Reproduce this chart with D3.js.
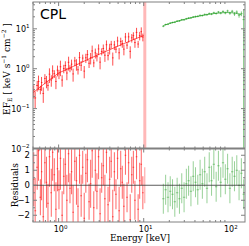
<!DOCTYPE html>
<html>
<head>
<meta charset="utf-8">
<script src="https://cdn.jsdelivr.net/npm/d3@7"></script>
<style>
  body { margin: 0; background: #fff; }
  svg { display: block; }
</style>
</head>
<body>
<div id="chart"></div>
<script>
// ---- data ----
const redEnergy = [0.51, 0.53, 0.56, 0.58, 0.61, 0.63, 0.66, 0.69, 0.72, 0.75, 0.78, 0.82, 0.85, 0.89, 0.93, 0.97,
  1.01, 1.05, 1.10, 1.15, 1.20, 1.25, 1.31, 1.36, 1.42, 1.48, 1.55, 1.62, 1.69, 1.76, 1.84, 1.92, 2.00, 2.09,
  2.18, 2.28, 2.38, 2.48, 2.59, 2.70, 2.82, 2.95, 3.07, 3.21, 3.35, 3.50, 3.65, 3.81, 3.98, 4.15, 4.33, 4.52,
  4.72, 4.93, 5.14, 5.37, 5.60, 5.85, 6.10, 6.37, 6.65, 6.94, 7.24, 7.56, 7.89, 8.24, 8.60, 8.97, 9.36, 9.77];
const redFlux = [0.28, 0.185, 0.38, 0.48, 0.30, 0.45, 0.24, 0.57, 0.49, 0.38, 0.73, 0.52, 0.88, 0.75, 0.48, 0.92,
  0.74, 1.12, 0.52, 1.01, 1.20, 0.78, 1.45, 1.02, 1.30, 0.74, 1.57, 1.31, 0.94, 1.90, 1.22, 1.85, 0.87, 1.88,
  2.26, 1.37, 1.88, 2.79, 1.40, 2.50, 2.00, 3.13, 1.46, 2.70, 3.21, 2.18, 3.99, 2.13, 3.24, 4.09, 1.87, 3.96,
  3.08, 4.96, 2.51, 4.83, 4.28, 3.09, 6.24, 3.90, 6.28, 2.72, 5.95, 6.73, 4.52, 8.13, 4.16, 6.75, 8.49, 6.22];
const redResid = [0.4, -1.7, 1.2, 2.3, -0.8, 0.9, -2.1, 1.5, 0.2, -1.2, 1.9, -0.5, 2.2, 0.7, -1.6, 1.1,
  -0.3, 1.8, -2.0, 0.6, 1.4, -1.0, 2.1, -0.2, 0.9, -1.8, 1.6, 0.3, -1.4, 2.0, -0.7, 1.2, -2.2, 0.8,
  1.7, -1.1, 0.1, 2.3, -1.5, 1.0, -0.4, 1.9, -1.9, 0.5, 1.3, -0.9, 2.2, -1.3, 0.4, 1.6, -2.1, 0.9,
  -0.6, 1.8, -1.7, 1.1, 0.2, -1.4, 2.0, -0.8, 1.5, -2.3, 0.7, 1.2, -1.0, 1.9, -1.6, 0.3, 1.4, -0.5];
const redResidHalf = [1.8, 2.2, 1.5, 2.0, 1.2, 1.9, 2.1, 1.4, 1.7, 1.3, 2.0, 1.6, 1.9, 1.1, 1.8, 1.5,
  1.3, 2.1, 1.6, 1.2, 1.4, 1.7, 1.9, 1.0, 1.5, 1.8, 1.3, 1.6, 1.2, 1.9, 1.4, 1.1, 1.7, 1.3,
  1.5, 1.2, 1.6, 1.8, 1.1, 1.4, 1.2, 1.5, 1.7, 1.0, 1.3, 1.6, 1.4, 1.2, 1.5, 1.1, 1.8, 1.3,
  1.0, 1.4, 1.6, 1.2, 1.1, 1.5, 1.3, 1.0, 1.4, 1.7, 1.2, 1.1, 1.3, 1.5, 1.0, 1.2, 1.4, 1.1];
// the ~10 keV bin with an unconstrained error bar
const redEdge = { e: 10.3, lo: 0.001, hi: 1000, resid: 0.0 };

const greenEnergy = [17.0, 18.1, 19.3, 20.5, 21.8, 23.2, 24.7, 26.3, 28.0, 29.8, 31.7, 33.7, 35.9, 38.2, 40.6, 43.2,
  46.0, 48.9, 52.1, 55.4, 58.9, 62.7, 66.7, 71.0, 75.5, 80.4, 85.5, 91.0, 96.8, 103.0, 109.6, 116.6, 124.1,
  132.0, 140.5, 149.5];
const greenFlux = [11.6, 12.8, 13.0, 13.9, 14.4, 14.6, 15.6, 15.8, 16.9, 16.8, 17.9, 18.6, 18.9, 19.9, 20.3, 20.6,
  21.7, 21.5, 22.9, 22.6, 24.2, 23.4, 25.3, 24.2, 26.4, 24.8, 27.2, 25.0, 28.0, 24.6, 27.5, 23.6, 26.2,
  21.9, 24.0, 17.0];
const greenLo = [0.6, 0.6, 0.6, 0.7, 0.7, 0.7, 0.8, 0.8, 0.8, 0.9, 0.9, 1.0, 1.0, 1.0, 1.1, 1.1,
  1.2, 1.2, 1.3, 1.3, 1.4, 1.4, 1.5, 1.5, 1.6, 1.7, 1.8, 1.9, 2.0, 2.1, 2.3, 2.5, 2.7, 2.9, 3.3, 16.99];
const greenHi = [0.6, 0.6, 0.6, 0.7, 0.7, 0.7, 0.8, 0.8, 0.8, 0.9, 0.9, 1.0, 1.0, 1.0, 1.1, 1.1,
  1.2, 1.2, 1.3, 1.3, 1.4, 1.4, 1.5, 1.5, 1.6, 1.7, 1.8, 1.9, 2.0, 2.1, 2.3, 2.5, 2.7, 2.9, 3.3, 14.0];
const greenResid = [-0.9, -0.3, -0.8, -0.4, -0.6, -1.1, -0.5, -0.9, -0.2, -0.8, 0.1, 0.3, -0.4, 0.6, 0.2, -0.3,
  0.7, 0.1, 0.9, -0.2, 1.2, 0.3, 1.4, -0.1, 1.3, 0.2, 1.5, 0.4, 1.1, -0.2, 0.9, 0.6, 1.0, 0.0, 0.8, -0.6];

// CPL model curve
const modelEnergy = [0.5, 0.7, 1, 1.5, 2, 3, 4, 5, 7, 10, 15, 17, 20, 30, 40, 50, 60, 70, 80, 90, 100, 120, 140, 155];
const modelFlux = [0.25, 0.44, 0.78, 1.15, 1.55, 2.3, 3.0, 3.7, 5.0, 6.8, 10.2, 12.0, 13.6, 17.2, 19.8, 21.8,
  23.3, 24.4, 25.1, 25.5, 25.6, 24.7, 22.5, 20.0];

const yTickExp = [1, 0, -1, -2];
const xTickExp = [0, 1, 2];
const residTicks = [2, 1, 0, -1, -2];

// ---- layout ----
const W = 249, H = 246;
const pL = 33, pR = 245, pT = 2, pM = 148.5, pB = 222;
const frameColor = '#808080';
const redC = '#ff0000', greenC = '#1a9a1a';

const svg = d3.select('#chart').append('svg')
  .attr('width', W).attr('height', H)
  .attr('viewBox', [0, 0, W, H]);

const x = d3.scaleLog().domain([0.5, 155]).range([pL, pR]);
const yTop = d3.scaleLog().domain([0.01, 47]).range([pM, pT]);
const yRes = d3.scaleLinear().domain([-2.45, 2.45]).range([pB, pM]);

const defs = svg.append('defs');
defs.append('clipPath').attr('id', 'clipTop').append('rect')
  .attr('x', pL).attr('y', pT).attr('width', pR - pL).attr('height', pM - pT);
defs.append('clipPath').attr('id', 'clipRes').append('rect')
  .attr('x', pL).attr('y', pM).attr('width', pR - pL).attr('height', pB - pM);

// bin edges from neighbouring energies (geometric)
function binEdges(es) {
  return es.map((e, i) => {
    const prev = i > 0 ? es[i - 1] : e * e / es[i + 1];
    const next = i < es.length - 1 ? es[i + 1] : e * e / es[i - 1];
    return [Math.sqrt(prev * e), Math.sqrt(e * next)];
  });
}

const redBins = binEdges(redEnergy);
const greenBins = binEdges(greenEnergy);

const redPts = redEnergy.map((e, i) => {
  const rel = 0.2 * redResidHalf[i];
  return { e, b: redBins[i], f: redFlux[i], lo: redFlux[i] * (1 - rel), hi: redFlux[i] * (1 + rel),
    r: redResid[i], half: redResidHalf[i] };
});
const greenPts = greenEnergy.map((e, i) => ({
  e, b: greenBins[i], f: greenFlux[i], lo: greenFlux[i] - greenLo[i], hi: greenFlux[i] + greenHi[i],
  r: greenResid[i], half: 1.0
}));

// ---- top panel ----
const gTop = svg.append('g').attr('clip-path', 'url(#clipTop)');

// the ~10 keV bin
gTop.append('line')
  .attr('x1', x(redEdge.e)).attr('x2', x(redEdge.e))
  .attr('y1', yTop(redEdge.lo)).attr('y2', yTop(redEdge.hi))
  .attr('stroke', redC).attr('stroke-opacity', 0.28).attr('stroke-width', 3);

function drawSpectrum(pts, color, op) {
  const g = gTop.append('g').attr('stroke', color).attr('stroke-opacity', op).attr('stroke-width', 1);
  g.selectAll('line.v').data(pts).join('line').attr('class', 'v')
    .attr('x1', d => x(d.e)).attr('x2', d => x(d.e))
    .attr('y1', d => yTop(Math.max(d.lo, 1e-4))).attr('y2', d => yTop(d.hi));
  g.selectAll('line.h').data(pts).join('line').attr('class', 'h')
    .attr('x1', d => x(d.b[0])).attr('x2', d => x(d.b[1]))
    .attr('y1', d => yTop(d.f)).attr('y2', d => yTop(d.f));
}
drawSpectrum(redPts, redC, 0.7);
drawSpectrum(greenPts, greenC, 0.55);

const modelLine = d3.line().x(d => x(d[0])).y(d => yTop(d[1]));
const redModel = modelEnergy.map((e, i) => [e, modelFlux[i]]).filter(d => d[0] <= 10);
const greenModel = modelEnergy.map((e, i) => [e, modelFlux[i]]).filter(d => d[0] >= 17 && d[0] <= 150);
gTop.append('path').datum(redModel).attr('d', modelLine)
  .attr('fill', 'none').attr('stroke', redC).attr('stroke-opacity', 0.8).attr('stroke-width', 0.8);
gTop.append('path').datum(greenModel).attr('d', modelLine)
  .attr('fill', 'none').attr('stroke', greenC).attr('stroke-opacity', 0.8).attr('stroke-width', 0.8);

// ---- residual panel ----
const gRes = svg.append('g').attr('clip-path', 'url(#clipRes)');

function drawResid(pts, color, op) {
  const g = gRes.append('g').attr('stroke', color).attr('stroke-opacity', op).attr('stroke-width', 1);
  g.selectAll('line.v').data(pts).join('line').attr('class', 'v')
    .attr('x1', d => x(d.e)).attr('x2', d => x(d.e))
    .attr('y1', d => yRes(d.r - d.half)).attr('y2', d => yRes(d.r + d.half));
  g.selectAll('line.h').data(pts).join('line').attr('class', 'h')
    .attr('x1', d => x(d.b[0])).attr('x2', d => x(d.b[1]))
    .attr('y1', d => yRes(d.r)).attr('y2', d => yRes(d.r));
}
drawResid(redPts, redC, 0.6);
drawResid(greenPts, greenC, 0.45);

gRes.append('line')
  .attr('x1', x(redEdge.e)).attr('x2', x(redEdge.e))
  .attr('y1', yRes(redEdge.resid - 1.2)).attr('y2', yRes(redEdge.resid + 1.2))
  .attr('stroke', redC).attr('stroke-opacity', 0.4);

svg.append('line')
  .attr('x1', pL).attr('x2', pR).attr('y1', yRes(0)).attr('y2', yRes(0))
  .attr('stroke', '#333').attr('stroke-width', 0.8);

// ---- frames and ticks ----
const axes = svg.append('g').attr('stroke', frameColor).attr('fill', 'none');
axes.append('rect').attr('x', pL).attr('y', pT).attr('width', pR - pL).attr('height', pB - pT)
  .attr('stroke-width', 1);
axes.append('line').attr('x1', pL).attr('x2', pR).attr('y1', pM).attr('y2', pM).attr('stroke-width', 2);

const xMinor = [];
[0, 1, 2].forEach(p => d3.range(1, 10).forEach(m => {
  const v = m * Math.pow(10, p - 1);
  if (v >= 0.5 && v <= 155) xMinor.push(v);
}));
xMinor.forEach(v => {
  const major = xTickExp.some(p => Math.abs(v - Math.pow(10, p)) < 1e-9);
  const len = major ? 4 : 2;
  [pT, pM].forEach(y0 => axes.append('line').attr('x1', x(v)).attr('x2', x(v)).attr('y1', y0).attr('y2', y0 + len));
  [pM, pB].forEach(y0 => axes.append('line').attr('x1', x(v)).attr('x2', x(v)).attr('y1', y0).attr('y2', y0 - len));
});

const yMinor = [];
[-2, -1, 0, 1].forEach(p => d3.range(1, 10).forEach(m => {
  const v = m * Math.pow(10, p);
  if (v >= 0.01 && v <= 47) yMinor.push(v);
}));
yMinor.forEach(v => {
  const major = yTickExp.some(p => Math.abs(v - Math.pow(10, p)) < 1e-9);
  const len = major ? 4 : 2;
  axes.append('line').attr('x1', pL).attr('x2', pL + len).attr('y1', yTop(v)).attr('y2', yTop(v));
  axes.append('line').attr('x1', pR).attr('x2', pR - len).attr('y1', yTop(v)).attr('y2', yTop(v));
});
d3.range(-2, 2.01, 0.5).forEach(v => {
  const len = Number.isInteger(v) ? 4 : 2;
  axes.append('line').attr('x1', pL).attr('x2', pL + len).attr('y1', yRes(v)).attr('y2', yRes(v));
  axes.append('line').attr('x1', pR).attr('x2', pR - len).attr('y1', yRes(v)).attr('y2', yRes(v));
});

// ---- labels ----
const tickFont = 'DejaVu Sans, sans-serif';
const serif = 'DejaVu Serif, serif';

function powLabel(xp, yp, exp, anchor) {
  const t = svg.append('text').attr('x', xp).attr('y', yp).attr('text-anchor', anchor)
    .attr('font-family', tickFont).attr('font-size', 8).attr('fill', '#000');
  t.append('tspan').text('10');
  t.append('tspan').attr('dy', -3.5).attr('font-size', 5.5).text(exp < 0 ? '\u2212' + (-exp) : exp);
}
yTickExp.forEach(p => powLabel(29.5, yTop(Math.pow(10, p)) + 3, p, 'end'));
xTickExp.forEach(p => powLabel(x(Math.pow(10, p)) + 2, 232, p, 'middle'));

svg.selectAll('text.res').data(residTicks).join('text').attr('class', 'res')
  .attr('x', 30).attr('y', d => yRes(d) + 3).attr('text-anchor', 'end')
  .attr('font-family', tickFont).attr('font-size', 8.5)
  .text(d => d < 0 ? '\u2212' + (-d) : d);

svg.append('text').attr('x', 40).attr('y', 19)
  .attr('font-family', tickFont).attr('font-size', 14).text('CPL');

const yl = svg.append('text')
  .attr('transform', 'translate(10,69) rotate(-90)').attr('text-anchor', 'middle')
  .attr('font-family', serif).attr('font-size', 9);
yl.append('tspan').text('EF');
yl.append('tspan').attr('dy', 2).attr('font-size', 6).text('E');
yl.append('tspan').attr('dy', -2).text(' [ keV s');
yl.append('tspan').attr('dy', -4).attr('font-size', 6).text('\u22121');
yl.append('tspan').attr('dy', 4).text(' cm');
yl.append('tspan').attr('dy', -4).attr('font-size', 6).text('\u22122');
yl.append('tspan').attr('dy', 4).text(' ]');

svg.append('text')
  .attr('transform', `translate(18,${yRes(0)}) rotate(-90)`).attr('text-anchor', 'middle')
  .attr('font-family', serif).attr('font-size', 9).text('Residuals');

svg.append('text').attr('x', 140).attr('y', 241).attr('text-anchor', 'middle')
  .attr('font-family', serif).attr('font-size', 9).text('Energy [keV]');
</script>
</body>
</html>
